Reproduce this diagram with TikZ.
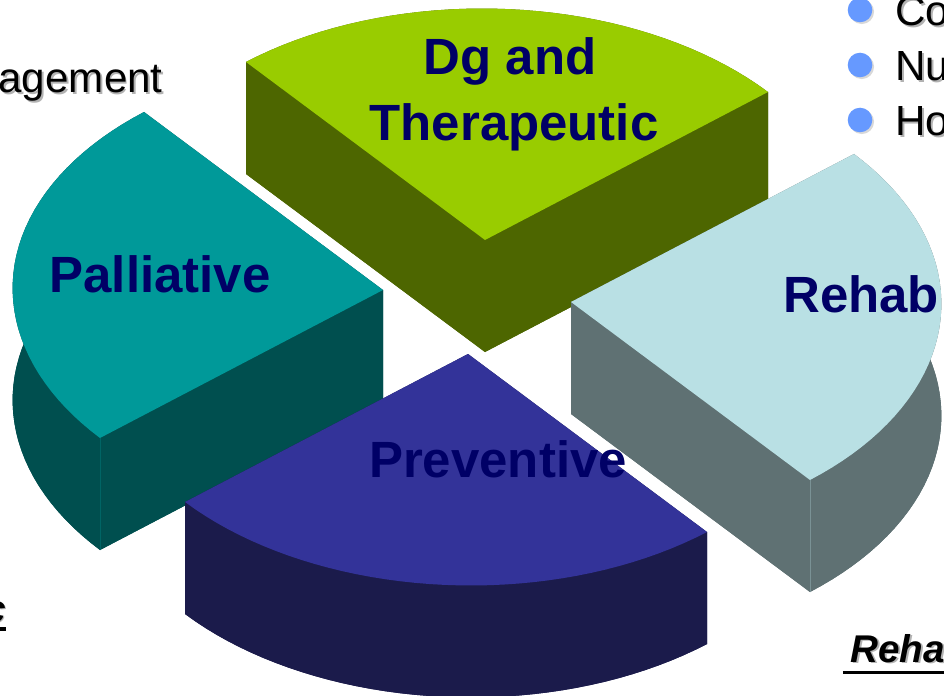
\documentclass[tikz,border=0pt]{standalone}
\usepackage{fontspec}
\setmainfont{Liberation Sans}
\usepackage{xcolor}
\usepackage{tikz}
\usetikzlibrary{positioning, shadows}

\definecolor{dgtop}{HTML}{99CC00}
\definecolor{dgside}{HTML}{4D6600}
\definecolor{paltop}{HTML}{009999}
\definecolor{palside}{HTML}{004F4F}
\definecolor{rehtop}{HTML}{B9E0E4}
\definecolor{rehside}{HTML}{5F7173}
\definecolor{prevtop}{HTML}{333399}
\definecolor{prevside}{HTML}{1B1B4B}
\definecolor{labelblue}{HTML}{000066}
\definecolor{bulletblue}{HTML}{6699FF}

\newcommand{\shadowed}[1]{\rlap{\kern1pt\raisebox{-1pt}{\textcolor{black!30}{#1}}}#1}

\begin{document}
\begin{tikzpicture}[x=0.02cm, y=-0.02cm,
    declare function={ex(\t)=283*cos(\t)+239*sin(\t); ey(\t)=-148*cos(\t)+178*sin(\t);},
    slicelabel/.style={font=\fontsize{29}{32}\selectfont\bfseries, text=labelblue, inner sep=0pt},
    sidetext/.style={font=\fontsize{24}{28}\selectfont, inner sep=0pt},
    notetext/.style={font=\fontsize{22}{26}\selectfont\bfseries\itshape, inner sep=0pt},
    bulletdot/.style={circle, fill=bulletblue, minimum size=14pt, inner sep=0pt,
        drop shadow={shadow xshift=1pt, shadow yshift=-1pt, fill=black!30}}]
    \useasboundingbox (0,0) rectangle (944,696);

    % Slices, back to front: centre / start angle / end angle / colours
    \foreach \cx/\cy/\sa/\ea/\topc/\sidec in {485/240/270/360/dgtop/dgside,
        383/290/180/270/paltop/palside, 571/302/0/90/rehtop/rehside,
        468/354/90/180/prevtop/prevside} {
        % sides
        \fill[\sidec] (\cx,{\cy+112}) -- plot[domain=\sa:\ea, samples=40] ({\cx+ex(\x)},{\cy+112+ey(\x)}) -- cycle;
        \fill[\sidec] (\cx,\cy) -- ({\cx+ex(\sa)},{\cy+ey(\sa)}) -- ++(0,112) -- (\cx,{\cy+112}) -- cycle;
        \fill[\sidec] (\cx,\cy) -- ({\cx+ex(\ea)},{\cy+ey(\ea)}) -- ++(0,112) -- (\cx,{\cy+112}) -- cycle;
        \fill[\sidec] plot[domain=\sa:\ea, samples=40] ({\cx+ex(\x)},{\cy+ey(\x)})
            -- plot[domain=\ea:\sa, samples=40] ({\cx+ex(\x)},{\cy+112+ey(\x)}) -- cycle;
        % top
        \fill[\topc] (\cx,\cy) -- plot[domain=\sa:\ea, samples=40] ({\cx+ex(\x)},{\cy+ey(\x)}) -- cycle;
    }

    % front corner edges
    \draw[palside!70!paltop, very thin] (100,438) -- ++(0,112);
    \draw[rehside!70!rehtop, very thin] (810,480) -- ++(0,112);

    % Slice labels
    \node[slicelabel, anchor=base] (dgand) at (510,75) {Dg and};
    \node[slicelabel, anchor=base] (therapeutic) at (514,141) {Therapeutic};
    \node[slicelabel, anchor=base] (palliative) at (160,293) {Palliative};
    \node[slicelabel, anchor=base] (preventive) at (498,477) {Preventive};
    \node[slicelabel, anchor=base west] (rehab) at (783,312) {Rehab};

    % Cut-off texts round the pie
    \node[sidetext, anchor=base east] (management) at (163,93) {\shadowed{agement}};
    \foreach \t [count=\i from 0] in {Co,Nu,Ho} {
        \node[bulletdot] (bullet\i) at (860,{10+55*\i}) {};
        \node[sidetext, anchor=base west] (item\i) at (895,{26+55*\i}) {\shadowed{\t}};
    }

    \node[notetext, anchor=base west] (rehanote) at (850,662) {\shadowed{Reha}};
    \draw[line width=2pt] ([xshift=-4pt, yshift=-6pt]rehanote.base west) -- ([xshift=10pt, yshift=-6pt]rehanote.base east);
    \node[notetext, anchor=base east] (cnote) at (6,622) {\shadowed{c}};
    \draw[line width=2pt] ([yshift=-4pt]cnote.base west) -- ([yshift=-4pt]cnote.base east);
\end{tikzpicture}
\end{document}
